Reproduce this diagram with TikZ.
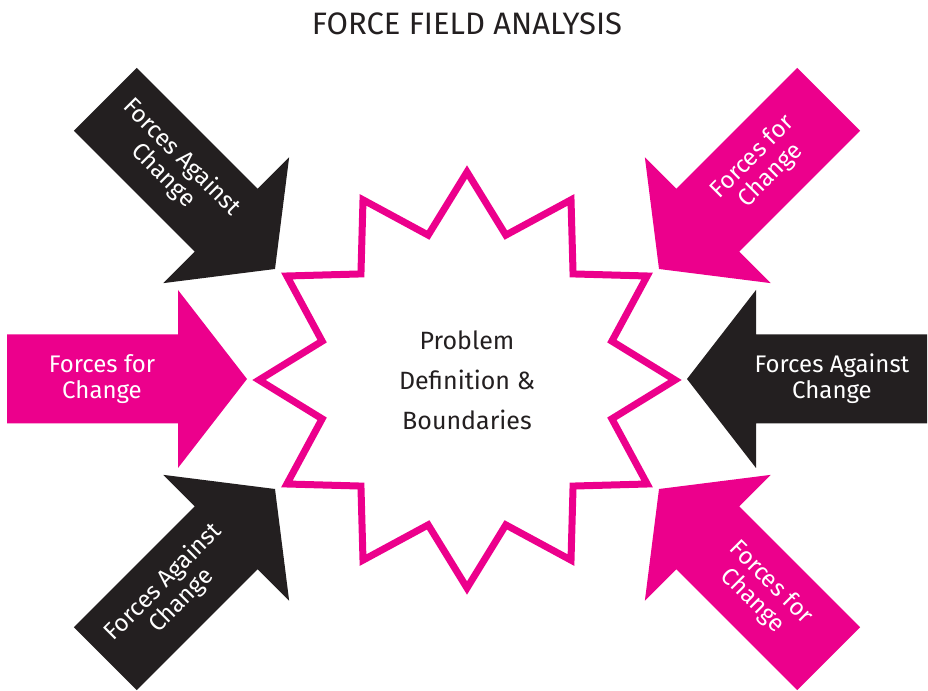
\documentclass[tikz,border=0pt]{standalone}
\usepackage{fontspec}
\setmainfont{Fira Sans}
\definecolor{fpink}{HTML}{EC008C}
\definecolor{fdark}{HTML}{231F20}
\newcommand\forcearrowshape[1]{%
  \fill[#1] (0,0) -- (-69,89) -- (-69,44.5) -- (-240,44.5) -- (-240,-44.5) -- (-69,-44.5) -- (-69,-89) -- cycle;}
\begin{document}
\begin{tikzpicture}[x=1pt,y=1pt,
  lbl/.style={text=white, font=\fontsize{24}{25.6}\selectfont, align=center, inner sep=0pt},
  starline/.style={draw=fpink, line width=7pt, line join=miter, miter limit=10}]
\useasboundingbox (0,0) rectangle (928,690);
% title
\node[font=\fontsize{31}{36}\selectfont, text=fdark, anchor=base, inner sep=0pt] (title) at (467,655) {FORCE FIELD ANALYSIS};
% star
\coordinate (c) at (467,310);
\begin{scope}[shift={(c)}]
\draw[starline] (90:208) \foreach \i in {0,...,10}{ -- ({105+30*\i}:150) -- ({120+30*\i}:208)} -- (75:150) -- cycle;
\end{scope}
\node[font=\fontsize{25}{40}\selectfont, text=fdark, align=center, inner sep=0pt] (problem) at (c) {Problem\\Definition \&\\Boundaries};
% arrow tips
\coordinate (tipL) at (247,311);
\coordinate (tipR) at (687,311);
\coordinate (tipTL) at (275,421);
\coordinate (tipTR) at (659,421);
\coordinate (tipBL) at (275,201);
\coordinate (tipBR) at (659,201);
% left pink
\begin{scope}[shift={(tipL)}, rotate=0]
\forcearrowshape{fpink}
\node[lbl] (lblL) at (-145,0) {Forces for\\Change};
\end{scope}
% right black
\begin{scope}[shift={(tipR)}, rotate=180]
\forcearrowshape{fdark}
\node[lbl] (lblR) at (-145,0) {Forces Against\\Change};
\end{scope}
% top-left black
\begin{scope}[shift={(tipTL)}, rotate=-45]
\forcearrowshape{fdark}
\node[lbl, rotate=-45] (lblTL) at (-145,0) {Forces Against\\Change};
\end{scope}
% top-right pink
\begin{scope}[shift={(tipTR)}, rotate=-135]
\forcearrowshape{fpink}
\node[lbl, rotate=45] (lblTR) at (-145,0) {Forces for\\Change};
\end{scope}
% bottom-left black
\begin{scope}[shift={(tipBL)}, rotate=45]
\forcearrowshape{fdark}
\node[lbl, rotate=45] (lblBL) at (-145,0) {Forces Against\\Change};
\end{scope}
% bottom-right pink
\begin{scope}[shift={(tipBR)}, rotate=135]
\forcearrowshape{fpink}
\node[lbl, rotate=-45] (lblBR) at (-145,0) {Forces for\\Change};
\end{scope}
\end{tikzpicture}
\end{document}
